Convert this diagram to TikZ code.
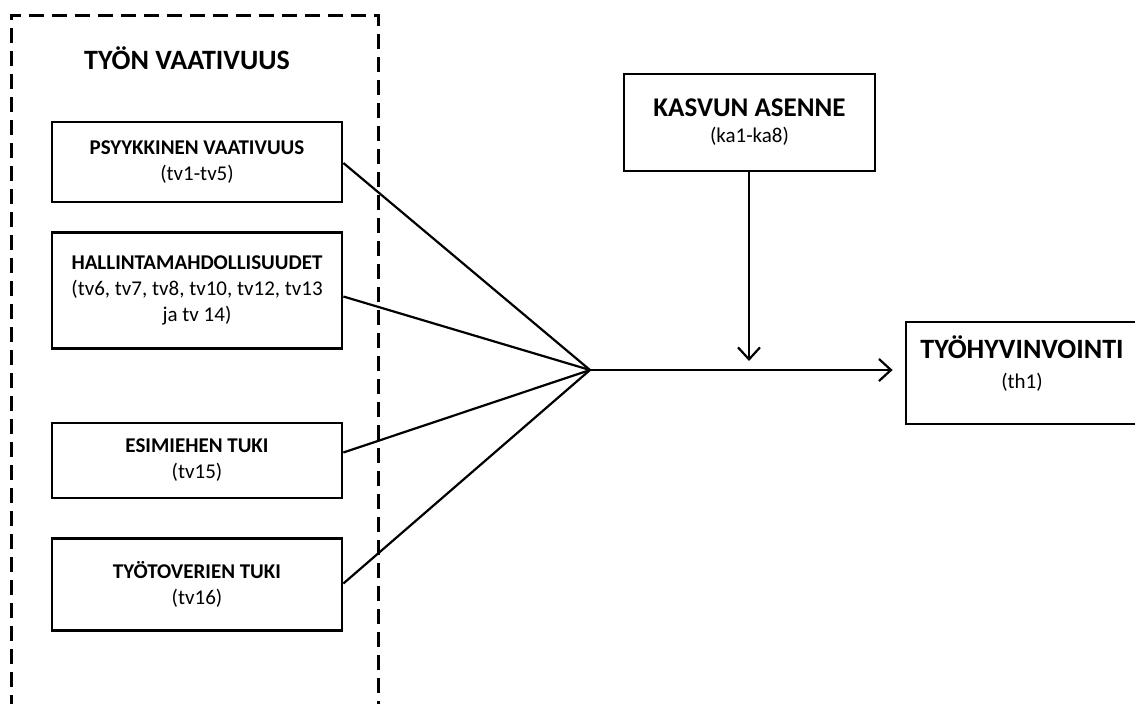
\documentclass[tikz,border=0pt]{standalone}
\usepackage{fontspec}
\setmainfont{Carlito}
\usetikzlibrary{arrows.meta}
\begin{document}
\begin{tikzpicture}[x=1pt,y=-1pt,
  box/.style={draw,line width=2.8pt,rectangle,inner sep=0pt,align=center,font=\fontsize{21}{26}\selectfont},
  conn/.style={line width=2.2pt},
  arr/.style={line width=2.2pt,-{Straight Barb[length=12pt,width=22pt,line width=2.2pt]}},
  group/.style={line width=3pt,dash pattern=on 15pt off 8pt}
]
\useasboundingbox (0,0) rectangle (1135,704);
\clip (0,0) rectangle (1135,704);
\draw[group] (11,710) -- (11,15) -- (378,15) -- (378,710);
\node[font=\fontsize{28}{32}\selectfont\bfseries] (title) at (187,58) {TYÖN VAATIVUUS};
\node[box,minimum width=290pt,minimum height=80pt] (b1) at (197,162) {\textbf{PSYYKKINEN VAATIVUUS}\\(tv1-tv5)};
\node[box,minimum width=290pt,minimum height=116pt] (b2) at (197,290.5) {\textbf{HALLINTAMAHDOLLISUUDET}\\(tv6, tv7, tv8, tv10, tv12, tv13\\ja tv 14)};
\node[box,minimum width=290pt,minimum height=75pt] (b3) at (197,460.5) {\textbf{ESIMIEHEN TUKI}\\(tv15)};
\node[box,minimum width=290pt,minimum height=92pt] (b4) at (197,584.5) {\textbf{TYÖTOVERIEN TUKI}\\(tv16)};
\node[box,minimum width=251pt,minimum height=97pt] (k) at (749.5,122.5) {{\fontsize{27}{32}\selectfont\bfseries KASVUN ASENNE}\\(ka1-ka8)};
\node[box,minimum width=232pt,minimum height=102pt] (t) at (1022,373) {};
\node[align=center,font=\fontsize{21}{30}\selectfont] (tt) at (1022,364) {{\fontsize{28}{32}\selectfont\bfseries TYÖHYVINVOINTI}\\(th1)};
\coordinate (m) at (590,370);
\coordinate (v) at (749,370);
\draw[conn] ([yshift=-1pt]b1.east) -- (m);
\draw[conn] ([yshift=-6pt]b2.east) -- (m);
\draw[conn] ([yshift=8pt]b3.east) -- (m);
\draw[conn] ([yshift=1pt]b4.east) -- (m);
\draw[arr] (m) -- ([xshift=-12pt]m -| t.west);
\draw[arr] (k.south -| v) -- ([yshift=9pt]v);
\end{tikzpicture}
\end{document}
